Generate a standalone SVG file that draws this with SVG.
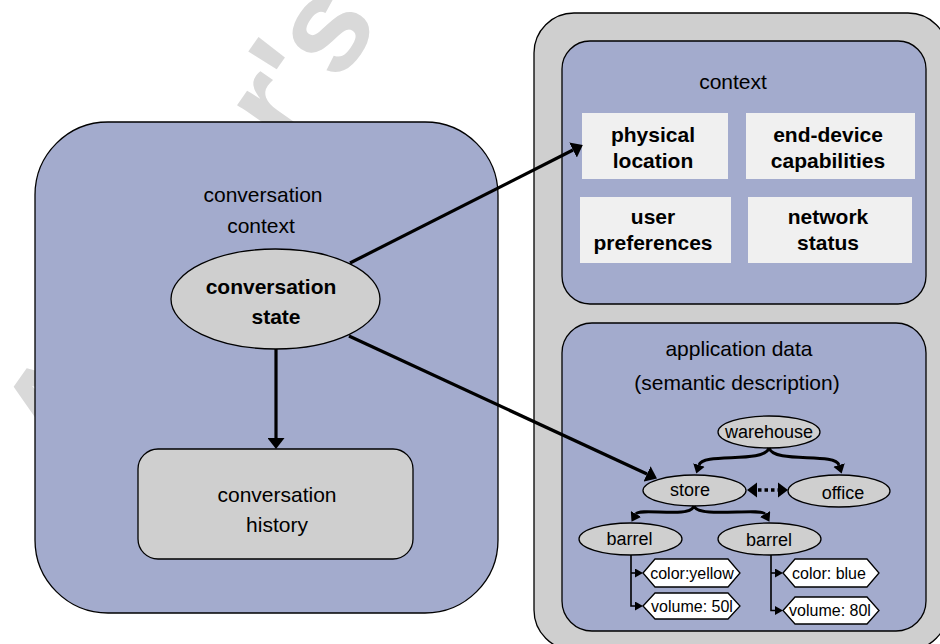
<svg xmlns="http://www.w3.org/2000/svg" width="940" height="644" viewBox="0 0 940 644">
  <style>
    text { font-family: "Liberation Sans", Arial, Helvetica, sans-serif; fill: #000; }
    .lbl { font-size: 21px; text-anchor: middle; }
    .bold { font-size: 21px; font-weight: bold; text-anchor: middle; }
    .small { font-size: 18px; text-anchor: middle; }
    .attr { font-size: 16px; text-anchor: middle; }
    .panel { fill: #a3abcd; stroke: #000; stroke-width: 1.3; }
    .grey { fill: #cfcfcf; stroke: #000; stroke-width: 1.3; }
    .item { fill: #f0f0f0; stroke: none; }
    .hex { fill: #fff; stroke: #000; stroke-width: 1.3; }
    .thick { fill: none; stroke: #000; stroke-width: 3.2; }
    .curve { fill: none; stroke: #000; stroke-width: 3; }
    .thin { fill: none; stroke: #000; stroke-width: 1.6; }
    .mark { font-size: 134px; font-weight: bold; fill: #d9d9d9; }
  </style>
  <defs>
    <marker id="head" markerUnits="userSpaceOnUse" markerWidth="11" markerHeight="17" refX="0" refY="8.5" orient="auto" viewBox="0 0 11 17">
      <path d="M0,0 L11,8.5 L0,17 z" fill="#000"/>
    </marker>
    <marker id="head-s" markerUnits="userSpaceOnUse" markerWidth="9" markerHeight="12" refX="0" refY="6" orient="auto" viewBox="0 0 9 12">
      <path d="M0,0 L9,6 L0,12 z" fill="#000"/>
    </marker>
    <marker id="head-t" markerUnits="userSpaceOnUse" markerWidth="8" markerHeight="9" refX="0" refY="4.5" orient="auto" viewBox="0 0 8 9">
      <path d="M0,0 L8,4.5 L0,9 z" fill="#000"/>
    </marker>
  </defs>

  <rect width="940" height="644" fill="#fff"/>

  <!-- watermark lettering behind the panels -->
  <text class="mark" transform="translate(68,470) rotate(-55)">Author's</text>

  <!-- left panel: conversation context -->
  <g id="conversation-context">
    <rect class="panel" x="35" y="122" width="463" height="491" rx="73" ry="73"/>
    <text class="lbl" x="263" y="202">conversation</text>
    <text class="lbl" x="261" y="233">context</text>
  </g>

  <g id="conversation-state">
    <ellipse class="grey" cx="275.5" cy="299" rx="104.5" ry="50"/>
    <text class="bold" x="271" y="294">conversation</text>
    <text class="bold" x="276" y="324">state</text>
  </g>

  <g id="conversation-history">
    <rect class="grey" x="138" y="449" width="275" height="110" rx="20" ry="20"/>
    <text class="lbl" x="277" y="502">conversation</text>
    <text class="lbl" x="277" y="532">history</text>
  </g>

  <!-- right panel -->
  <g id="environment">
    <rect class="grey" x="534" y="13" width="414" height="637" rx="40" ry="40"/>
  </g>

  <g id="context">
    <rect class="panel" x="562" y="41" width="364" height="263" rx="28" ry="28"/>
    <text class="lbl" x="733" y="89">context</text>
  </g>

  <g id="physical-location">
    <rect class="item" x="582" y="113" width="146" height="66"/>
    <text class="bold" x="653" y="142">physical</text>
    <text class="bold" x="653" y="168">location</text>
  </g>
  <g id="end-device-capabilities">
    <rect class="item" x="746" y="113" width="169" height="66"/>
    <text class="bold" x="828" y="142">end-device</text>
    <text class="bold" x="828" y="168">capabilities</text>
  </g>
  <g id="user-preferences">
    <rect class="item" x="580" y="197" width="151" height="66"/>
    <text class="bold" x="653" y="224">user</text>
    <text class="bold" x="653" y="250">preferences</text>
  </g>
  <g id="network-status">
    <rect class="item" x="748" y="197" width="164" height="66"/>
    <text class="bold" x="828" y="224">network</text>
    <text class="bold" x="828" y="250">status</text>
  </g>

  <g id="application-data">
    <rect class="panel" x="562" y="323" width="364" height="308" rx="30" ry="30"/>
    <text class="lbl" x="739" y="356">application data</text>
    <text class="lbl" x="737" y="390">(semantic description)</text>
  </g>

  <g id="warehouse">
    <ellipse class="grey" cx="769" cy="432" rx="51" ry="16"/>
    <text class="small" x="769" y="438">warehouse</text>
  </g>
  <g id="store">
    <ellipse class="grey" cx="694.5" cy="490.5" rx="51.5" ry="15.5"/>
    <text class="small" x="690" y="496">store</text>
  </g>
  <g id="office">
    <ellipse class="grey" cx="839" cy="491" rx="51" ry="16"/>
    <text class="small" x="843" y="499">office</text>
  </g>
  <g id="barrel-1">
    <ellipse class="grey" cx="630.5" cy="539" rx="51.5" ry="16"/>
    <text class="small" x="629.5" y="545">barrel</text>
  </g>
  <g id="barrel-2">
    <ellipse class="grey" cx="769.5" cy="539" rx="51.5" ry="16"/>
    <text class="small" x="769" y="546">barrel</text>
  </g>

  <g id="color-yellow">
    <polygon class="hex" points="643,573 655,559 728,559 740,573 728,587 655,587"/>
    <text class="attr" x="692" y="579">color:yellow</text>
  </g>
  <g id="volume-50">
    <polygon class="hex" points="643,606 655,593 728,593 740,606 728,619 655,619"/>
    <text class="attr" x="692" y="612">volume: 50l</text>
  </g>
  <g id="color-blue">
    <polygon class="hex" points="783,573 795,559 867,559 879,573 867,587 795,587"/>
    <text class="attr" x="829" y="579">color: blue</text>
  </g>
  <g id="volume-80">
    <polygon class="hex" points="783,610.5 795,597 867,597 879,610.5 867,624 795,624"/>
    <text class="attr" x="830" y="616">volume: 80l</text>
  </g>

  <!-- connectors -->
  <g id="connectors">
    <line class="thick" x1="276" y1="349" x2="276" y2="438" marker-end="url(#head)"/>
    <line class="thick" x1="350" y1="263" x2="573" y2="150" marker-end="url(#head)"/>
    <line class="thick" x1="349" y1="336" x2="647" y2="474" marker-end="url(#head)"/>

    <path class="curve" d="M769,448 C764,464 703,452 699,465" marker-end="url(#head-s)"/>
    <path class="curve" d="M769,448 C774,464 835,452 839,465" marker-end="url(#head-s)"/>
    <path class="curve" d="M694,506 C690,519 640,507 636,514" marker-end="url(#head-s)"/>
    <path class="curve" d="M694,506 C698,519 761,507 765,514" marker-end="url(#head-s)"/>

    <!-- store <-> office, dotted with two heads -->
    <line x1="758" y1="490" x2="778" y2="490" stroke="#000" stroke-width="3.5" stroke-dasharray="3.5,3"/>
    <polygon points="747,490 757,482.5 757,497.5" fill="#000"/>
    <polygon points="788,490 778,482.5 778,497.5" fill="#000"/>

    <!-- attribute links -->
    <polyline class="thin" points="631,555 631,606 635,606" marker-end="url(#head-t)"/>
    <line class="thin" x1="631" y1="573" x2="635" y2="573" marker-end="url(#head-t)"/>
    <polyline class="thin" points="771,555 771,610.5 775,610.5" marker-end="url(#head-t)"/>
    <line class="thin" x1="771" y1="573" x2="775" y2="573" marker-end="url(#head-t)"/>
  </g>
</svg>
